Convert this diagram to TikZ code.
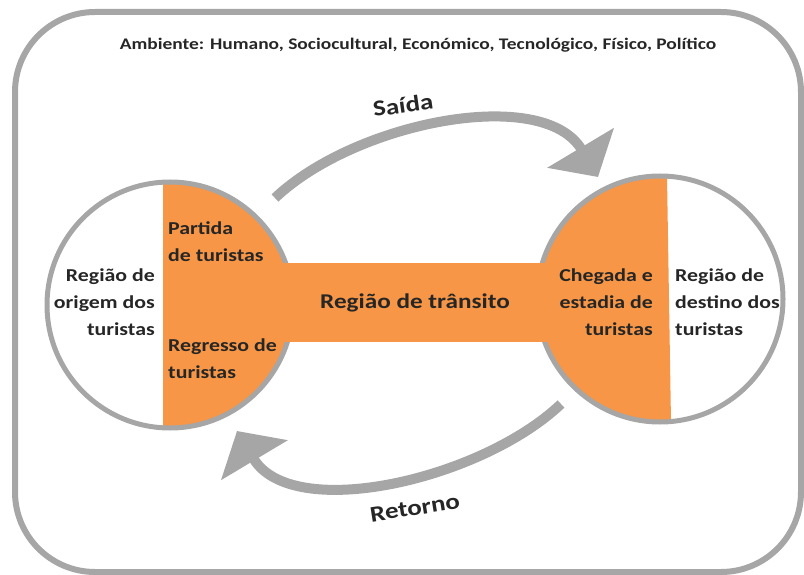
\documentclass[tikz,border=0pt]{standalone}
\usepackage{fontspec}
\setmainfont{Carlito}[FakeStretch=1.2]
\usetikzlibrary{arrows.meta}
\definecolor{cinza}{HTML}{A6A6A6}
\definecolor{laranja}{HTML}{F79646}
\definecolor{escuro}{HTML}{262626}

\begin{document}
\begin{tikzpicture}[x=1pt,y=-1pt]
 \tikzset{regiao node/.style={circle, draw=cinza, line width=5pt,
 		minimum size=246pt, inner sep=0pt}, }
 \tikzset{texto node/.style={text=escuro, inner sep=0pt,
 		font=\bfseries\fontsize{18.2}{27}\selectfont}, }
 \tikzset{rotulo node/.style={texto node,
 		font=\bfseries\fontsize{22.5}{27}\selectfont}, }
 \tikzset{barra node/.style={rectangle, fill=laranja, text=escuro,
 		minimum width=370pt, minimum height=79pt,
 		font=\bfseries\fontsize{21}{26}\selectfont}, }
 \tikzset{seta/.style={draw=cinza, line width=10pt,
 		-{Triangle[length=34pt,width=76pt]}},}
 \useasboundingbox (0,0) rectangle (804,575);
 \draw[cinza, line width=6pt, rounded corners=80pt] (15,12) rectangle (801,572);
 \node[texto node, font=\bfseries\fontsize{16.2}{20}\selectfont] (ambiente) at (418,45)
 	{Ambiente: Humano, Sociocultural, Económico, Tecnológico, Físico, Político};
 %% regioes
 \node[regiao node, path picture={\fill[laranja]
 	([xshift=-7pt]path picture bounding box.north) rectangle
 	(path picture bounding box.south east);}] (origem) at (170,305) {};
 \node[regiao node, path picture={\fill[laranja]
 	(path picture bounding box.north west) --
 	([xshift=7pt]path picture bounding box.north) --
 	([xshift=11pt]path picture bounding box.south) --
 	(path picture bounding box.south west) -- cycle;}] (destino) at (660,299) {};
 \node[barra node] (transito) at (415,302.5) {Região de trânsito};
 %% textos
 \node[texto node, anchor=east, align=right] (origem txt) at (155,302)
 	{Região de\\origem dos\\turistas};
 \node[texto node, anchor=west, align=left] (partida) at (168,241.5)
 	{Partida\\de turistas};
 \node[texto node, anchor=west, align=left] (regresso) at (168,358.5)
 	{Regresso de\\turistas};
 \node[texto node, anchor=east, align=right] (chegada) at (653,302)
 	{Chegada e\\estadia de\\turistas};
 \node[texto node, anchor=west, align=left] (destino txt) at (675,302)
 	{Região de\\destino dos\\turistas};
 %% setas
 \coordinate (saida ini) at (275,198);
 \coordinate (saida fim) at (598,177);
 \coordinate (retorno ini) at (561,404);
 \coordinate (retorno fim) at (237,431);
 \draw[seta] (saida ini) .. controls +(80,-76) and +(-55,-92) .. (saida fim);
 \draw[seta] (retorno ini) .. controls +(-80,76) and +(55,92) .. (retorno fim);
 \node[rotulo node, rotate=8] (saida) at (403,105) {Saída};
 \node[rotulo node, rotate=9] (retorno) at (415,508) {Retorno};
\end{tikzpicture}
\end{document}
